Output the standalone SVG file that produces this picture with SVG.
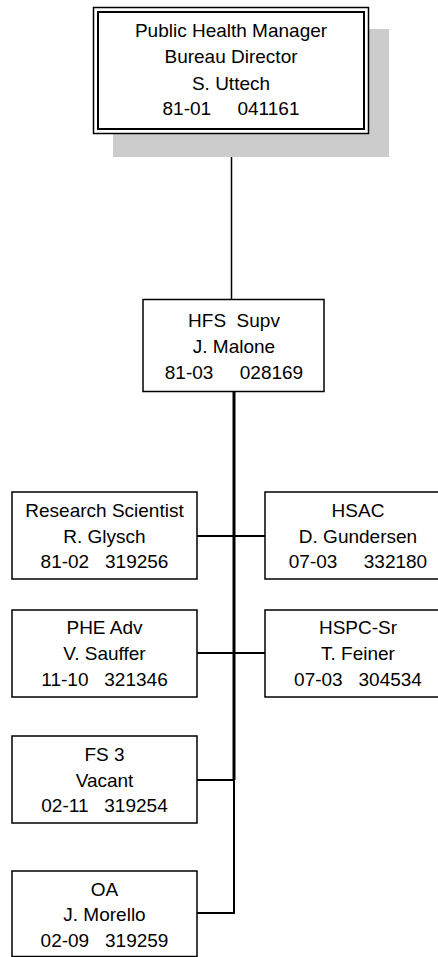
<svg xmlns="http://www.w3.org/2000/svg" width="438" height="957" viewBox="0 0 438 957">
<style>
text{font-family:"Liberation Sans",Arial,sans-serif;font-size:19px;fill:#000;text-anchor:middle}
.box{fill:#fff;stroke:#000;stroke-width:1.5}
.ln{stroke:#000;fill:none}
</style>
<rect width="438" height="957" fill="#fff"/>
<g id="connectors">
<line class="ln" x1="231.5" y1="134" x2="231.5" y2="299" stroke-width="1.5"/>
<line class="ln" x1="234" y1="392" x2="234" y2="780" stroke-width="3"/>
<line class="ln" x1="234" y1="780" x2="234" y2="914" stroke-width="2"/>
<line class="ln" x1="197" y1="536" x2="265" y2="536" stroke-width="2"/>
<line class="ln" x1="197" y1="653" x2="265" y2="653" stroke-width="2"/>
<line class="ln" x1="197" y1="780" x2="235" y2="780" stroke-width="2"/>
<line class="ln" x1="197" y1="913" x2="235" y2="913" stroke-width="2"/>
</g>
<g id="director">
<rect x="113" y="29" width="276" height="128" fill="#cccccc"/>
<rect x="93.5" y="7.5" width="275" height="126" fill="#fff" stroke="#000" stroke-width="1.5"/>
<rect x="98" y="12" width="266" height="117" fill="none" stroke="#000" stroke-width="2"/>
<text x="231" y="37">Public Health Manager</text>
<text x="231" y="63">Bureau Director</text>
<text x="231" y="90">S. Uttech</text>
<text x="231" y="115" xml:space="preserve">81-01     041161</text>
</g>
<g id="hfs">
<rect class="box" x="143" y="299.5" width="181" height="92"/>
<text x="234" y="327" xml:space="preserve">HFS  Supv</text>
<text x="234" y="353">J. Malone</text>
<text x="234" y="379" xml:space="preserve">81-03     028169</text>
</g>
<g id="research">
<rect class="box" x="12" y="492" width="185" height="87"/>
<text x="104.5" y="516.7">Research Scientist</text>
<text x="104.5" y="542.7">R. Glysch</text>
<text x="104.5" y="568.3" xml:space="preserve">81-02   319256</text>
</g>
<g id="hsac">
<rect class="box" x="265" y="492" width="186" height="87"/>
<text x="358" y="516.7">HSAC</text>
<text x="358" y="542.7">D. Gundersen</text>
<text x="358" y="568.3" xml:space="preserve">07-03     332180</text>
</g>
<g id="phe">
<rect class="box" x="12" y="610" width="185" height="87"/>
<text x="104.5" y="634">PHE Adv</text>
<text x="104.5" y="660">V. Sauffer</text>
<text x="104.5" y="685.5" xml:space="preserve">11-10   321346</text>
</g>
<g id="hspc">
<rect class="box" x="265" y="610" width="186" height="87"/>
<text x="358" y="634">HSPC-Sr</text>
<text x="358" y="660">T. Feiner</text>
<text x="358" y="685.5" xml:space="preserve">07-03   304534</text>
</g>
<g id="fs3">
<rect class="box" x="12" y="736" width="185" height="87"/>
<text x="104.5" y="760.5">FS 3</text>
<text x="104.5" y="786.5">Vacant</text>
<text x="104.5" y="812" xml:space="preserve">02-11   319254</text>
</g>
<g id="oa">
<rect class="box" x="12" y="871" width="185" height="85.5"/>
<text x="104.5" y="895.5">OA</text>
<text x="104.5" y="921">J. Morello</text>
<text x="104.5" y="946.5" xml:space="preserve">02-09   319259</text>
</g>
</svg>
